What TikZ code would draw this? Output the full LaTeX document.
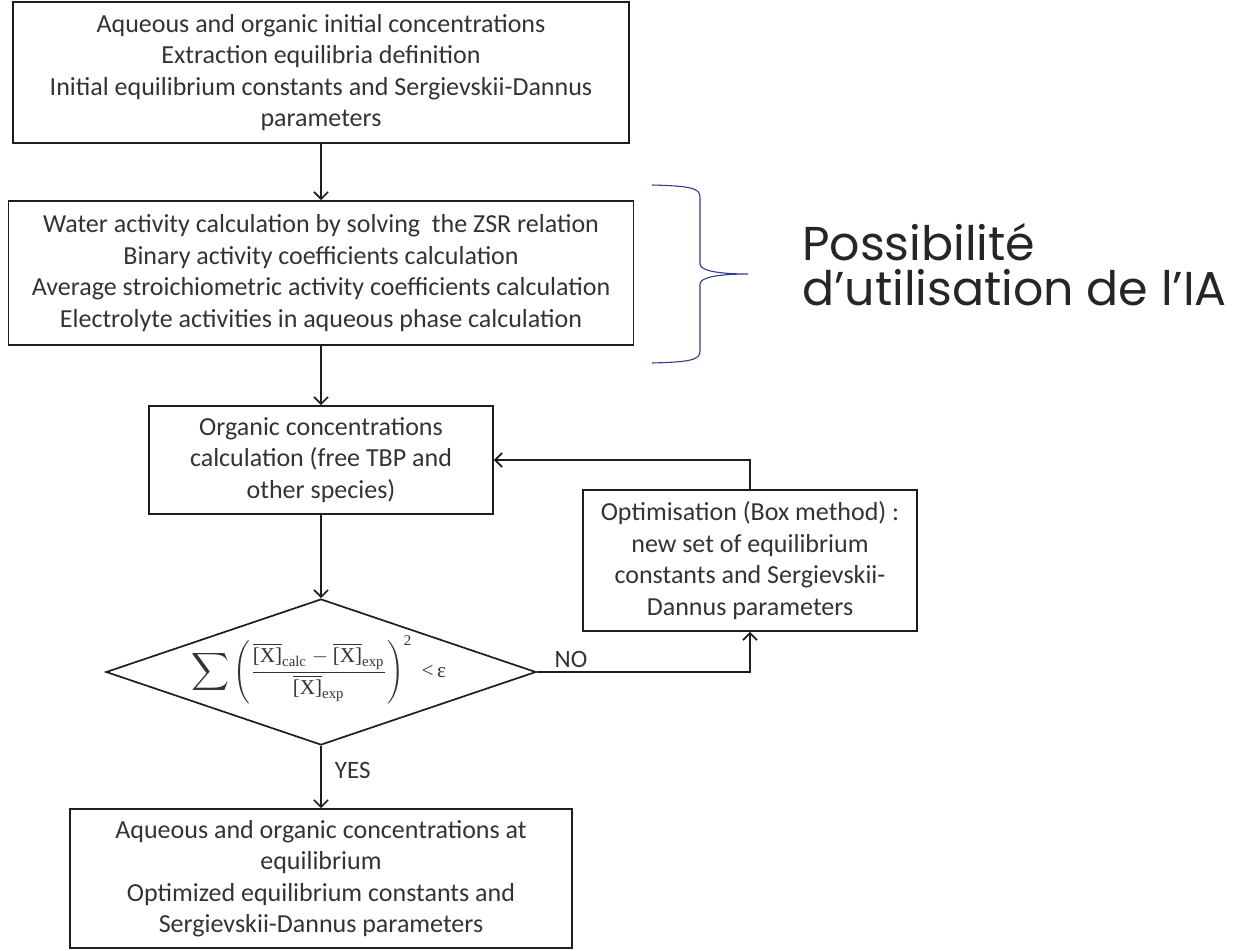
\documentclass[tikz,border=0pt]{standalone}
\usepackage{fontspec}
\usepackage{graphicx}
\usepackage{amsmath}
\setmainfont{Carlito}
\newfontfamily\popfont{Poppins}
\newfontfamily\serfont{Liberation Serif}
\usetikzlibrary{shapes.geometric,arrows.meta,calc}
\definecolor{txt}{HTML}{333333}
\definecolor{edge}{HTML}{1E1E1E}
\definecolor{bracecol}{HTML}{2F3E8C}
\definecolor{iatxt}{HTML}{262626}
\newcommand{\Xb}{\overline{\text{\serfont [X]}}}
\newcommand{\srm}[1]{\text{\serfont #1}}
\newcommand{\bigsum}{\mathop{\vcenter{\hbox{\scalebox{1.25}{$\displaystyle\sum$}}}}}
\begin{document}
\begin{tikzpicture}[x=1pt,y=-1pt,
  box/.style={draw=edge, line width=1.7pt, inner sep=0pt, align=center, text=txt,
              font=\fontsize{26}{31.5}\selectfont},
  flow/.style={draw=edge, line width=1.7pt,
               -{Straight Barb[length=7pt,width=14pt,line width=1.7pt]}},
  lbl/.style={text=txt, font=\fontsize{25}{28}\selectfont, inner sep=3pt},
  ia/.style={anchor=base west, text=iatxt, inner sep=0pt, font=\popfont\fontsize{47.5}{50}\selectfont},
  bracepath/.style={draw=bracecol, line width=1.1pt}]
\useasboundingbox (0,0) rectangle (1233,950);

\node[box, minimum width=616pt, minimum height=141pt] (b1) at (321,72.5)
  {Aqueous and organic initial concentrations\\Extraction equilibria definition\\
   Initial equilibrium constants and Sergievskii-Dannus\\parameters};
\node[box, minimum width=625pt, minimum height=144pt] (b2) at (321,273)
  {Water activity calculation by solving\ \ the ZSR relation\\Binary activity coefficients calculation\\
   Average stroichiometric activity coefficients calculation\\Electrolyte activities in aqueous phase calculation};
\node[box, minimum width=344pt, minimum height=108pt] (b3) at (321,460)
  {Organic concentrations\\calculation (free TBP and\\other species)};
\node[draw=edge, line width=1.7pt, diamond, minimum width=430pt, minimum height=146pt, inner sep=0pt] (d) at (321,672) {};
\node[text=txt, inner sep=0pt] (f) at (319,670)
  {\resizebox{254pt}{!}{$\displaystyle\bigsum\left(\frac{\Xb_{\srm{calc}}-\Xb_{\srm{exp}}}{\Xb_{\srm{exp}}}\right)^{\srm{2}}\;\srm{<\,ε}$}};
\node[box, minimum width=334pt, minimum height=141pt] (b4) at (750,560.5)
  {Optimisation (Box method) :\\new set of equilibrium\\constants and Sergievskii-\\Dannus parameters};
\node[box, minimum width=502pt, minimum height=139pt] (b5) at (321,878.5)
  {Aqueous and organic concentrations at\\equilibrium\\Optimized equilibrium constants and\\Sergievskii-Dannus parameters};

\draw[flow] (b1) -- (b2);
\draw[flow] (b2) -- (b3);
\draw[flow] (b3) -- (d);
\draw[flow] (d.south) -- node[lbl, pos=0.4, right=10pt] (yes) {YES} (b5.north);
\draw[flow] (d.east) -| node[lbl, pos=0.08, above] (no) {NO} (b4.south);
\draw[flow] (b4.north) |- (b3.east);

% brace
\coordinate (bt) at (652,185);
\coordinate (bm) at (748,274);
\coordinate (bb) at (652,363);
\draw[bracepath] (bt) .. controls (690,186) and (700,188) .. (700,197) -- (700,264)
  .. controls (700,271) and (720,274) .. (bm)
  .. controls (720,274) and (700,277) .. (700,284) -- (700,351)
  .. controls (700,360) and (690,362) .. (bb);

\node[ia] (ia1) at (802,260) {Possibilité};
\node[ia] (ia2) at (802,305) {d’utilisation de l’IA};
\end{tikzpicture}
\end{document}
